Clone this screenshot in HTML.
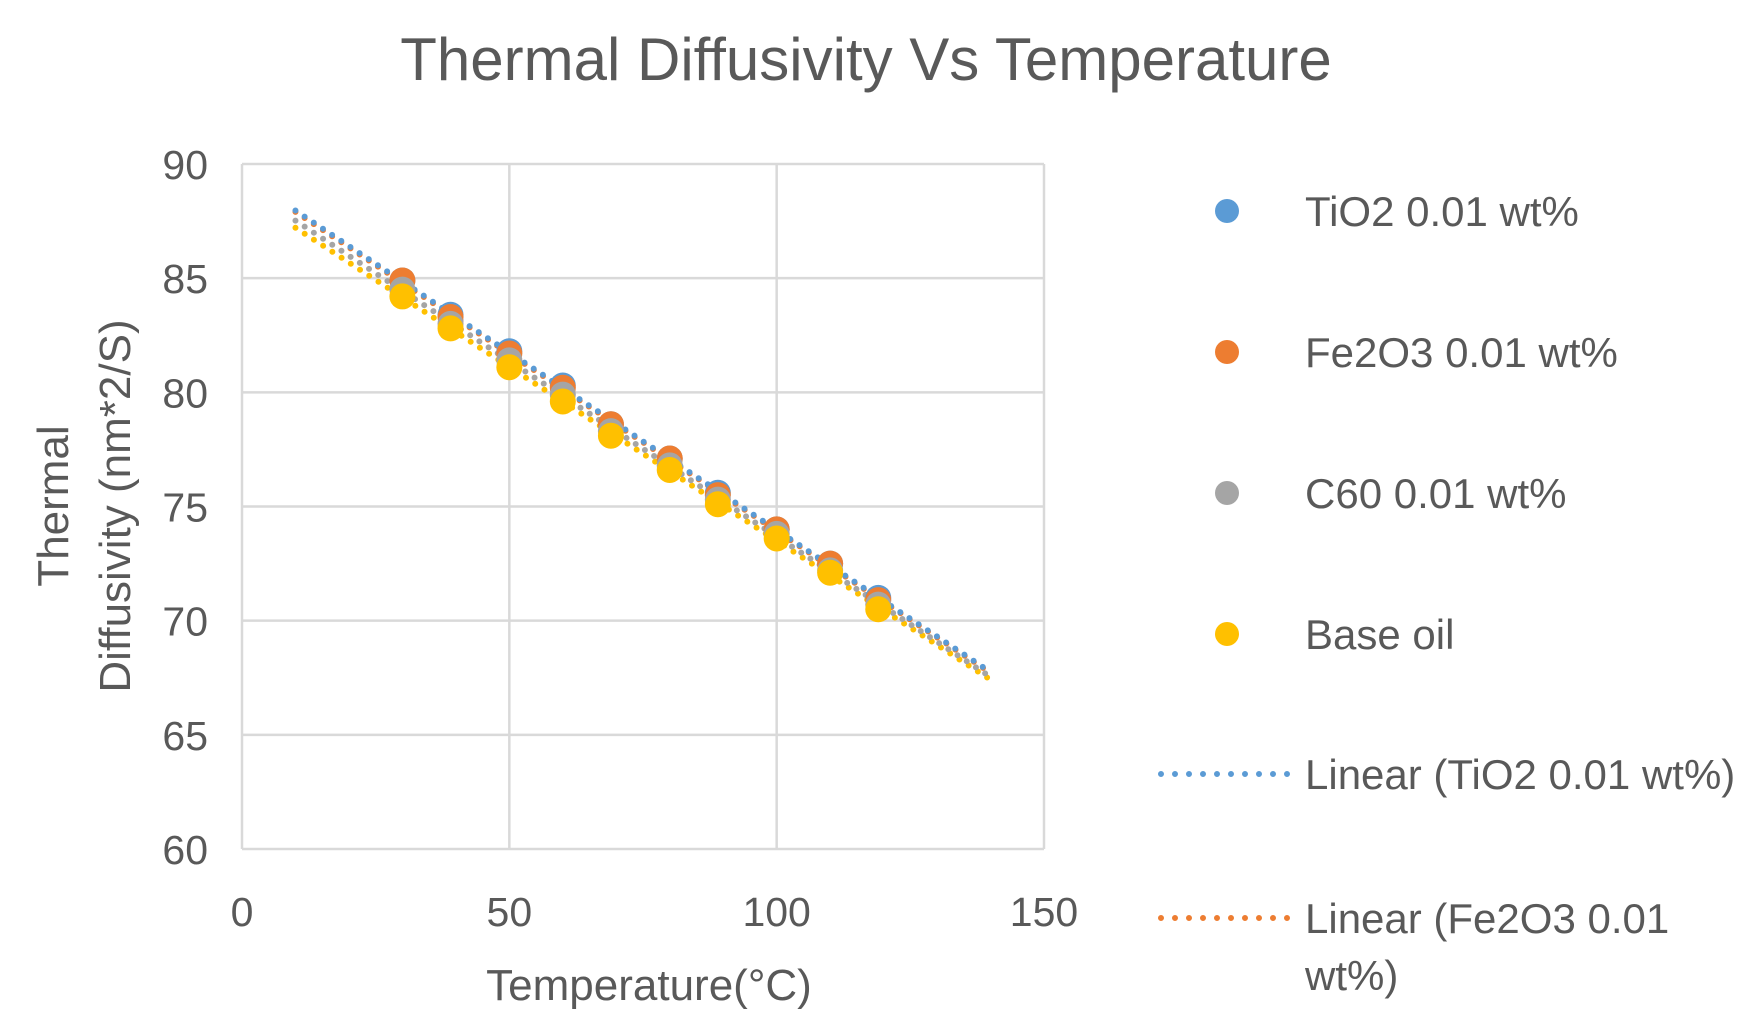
<!DOCTYPE html>
<html><head><meta charset="utf-8"><style>
html,body{margin:0;padding:0;background:#fff;}
svg text{font-family:"Liberation Sans",sans-serif;fill:#595959;}
</style></head><body>
<svg id="chart" width="1742" height="1030" viewBox="0 0 1742 1030" xmlns="http://www.w3.org/2000/svg">
<text x="866" y="80" font-size="60" text-anchor="middle">Thermal Diffusivity Vs Temperature</text>
<g id="grid"></g><g id="trends"></g><g id="points"></g><g id="ticks"></g>
<text x="649" y="1000" font-size="44" text-anchor="middle">Temperature(°C)</text>
<text transform="translate(68,506) rotate(-90)" font-size="44" text-anchor="middle">Thermal</text>
<text transform="translate(130,506) rotate(-90)" font-size="44" text-anchor="middle">Diffusivity (nm*2/S)</text>
<g id="legend"></g>
</svg>
<script>
const xTicks=[0,50,100,150];
const yTicks=[60,65,70,75,80,85,90];
const temps=[30,39,50,60,69,80,89,100,110,119];
const tio2=[84.9,83.4,81.8,80.3,78.6,77.1,75.6,74.0,72.5,71.0];
const fe2o3=[84.9,83.3,81.7,80.2,78.6,77.1,75.5,74.0,72.5,70.9];
const c60=[84.5,83.0,81.4,79.9,78.3,76.8,75.3,73.8,72.2,70.7];
const baseOil=[84.2,82.8,81.1,79.6,78.1,76.6,75.1,73.6,72.1,70.5];
const seriesNames=["TiO2 0.01 wt%","Fe2O3 0.01 wt%","C60 0.01 wt%","Base oil"];
const colors=["#5b9bd5","#ed7d31","#a5a5a5","#ffc000"];
const L=242,R=1044,T=164,B=849;
const xs=v=>L+(v-0)/(150-0)*(R-L);
const ys=v=>B-(v-60)/(90-60)*(B-T);
const NS="http://www.w3.org/2000/svg";
function mk(tag,attrs,parent){const e=document.createElementNS(NS,tag);for(const k in attrs)e.setAttribute(k,attrs[k]);parent.appendChild(e);return e;}
const grid=document.getElementById('grid'),ticks=document.getElementById('ticks');
yTicks.forEach(v=>{const l=mk('line',{x1:L,x2:R,y1:ys(v),y2:ys(v),stroke:'#d9d9d9','stroke-width':2.5},grid);


const t=mk('text',{x:L-34,y:ys(v)+15,'font-size':41,'text-anchor':'end'},ticks);t.textContent=v;

});
xTicks.forEach(v=>{const l=mk('line',{x1:xs(v),x2:xs(v),y1:T,y2:B,stroke:'#d9d9d9','stroke-width':2.5},grid);


const t=mk('text',{x:xs(v),y:926,'font-size':41,'text-anchor':'middle'},ticks);t.textContent=v;

});
const all=[tio2,fe2o3,c60,baseOil];
const trends=document.getElementById('trends'),pts=document.getElementById('points');
function fit(y){const n=temps.length;let sx=0,sy=0,sxy=0,sxx=0;for(let i=0;i<n;i++){sx+=temps[i];sy+=y[i];sxy+=temps[i]*y[i];sxx+=temps[i]*temps[i];}const m=(n*sxy-sx*sy)/(n*sxx-sx*sx);return [m,(sy-m*sx)/n];}
[3,2,1,0].forEach(i=>{const [m,b]=fit(all[i]);const l=mk('line',{x1:xs(10),y1:ys(m*10+b),x2:xs(140),y2:ys(m*140+b),stroke:colors[i],'stroke-width':6,'stroke-dasharray':'0 11','stroke-linecap':'round'},trends);

});
[0,1,2,3].forEach(i=>{all[i].forEach((v,j)=>{const c=mk('circle',{cx:xs(temps[j]),cy:ys(v),r:13,fill:colors[i]},pts);

});});
const lg=document.getElementById('legend');
const rows=[211,352,493,634];
seriesNames.forEach((n,i)=>{const c=mk('circle',{cx:1227,cy:rows[i],r:12,fill:colors[i]},lg);


const t=mk('text',{x:1305,y:rows[i]+15,'font-size':42},lg);t.textContent=n;

});
const lin=[["Linear (TiO2 0.01 wt%)",774,colors[0]],["Linear (Fe2O3 0.01",918,colors[1]]];
lin.forEach(([n,y,c])=>{const l=mk('line',{x1:1161,x2:1289,y1:y,y2:y,stroke:c,'stroke-width':6,'stroke-dasharray':'0 14','stroke-linecap':'round'},lg);


const t=mk('text',{x:1305,y:y+15,'font-size':42},lg);t.textContent=n;

});
const w=mk('text',{x:1305,y:990,'font-size':42},lg);w.textContent="wt%)";


</script>
</body></html>
